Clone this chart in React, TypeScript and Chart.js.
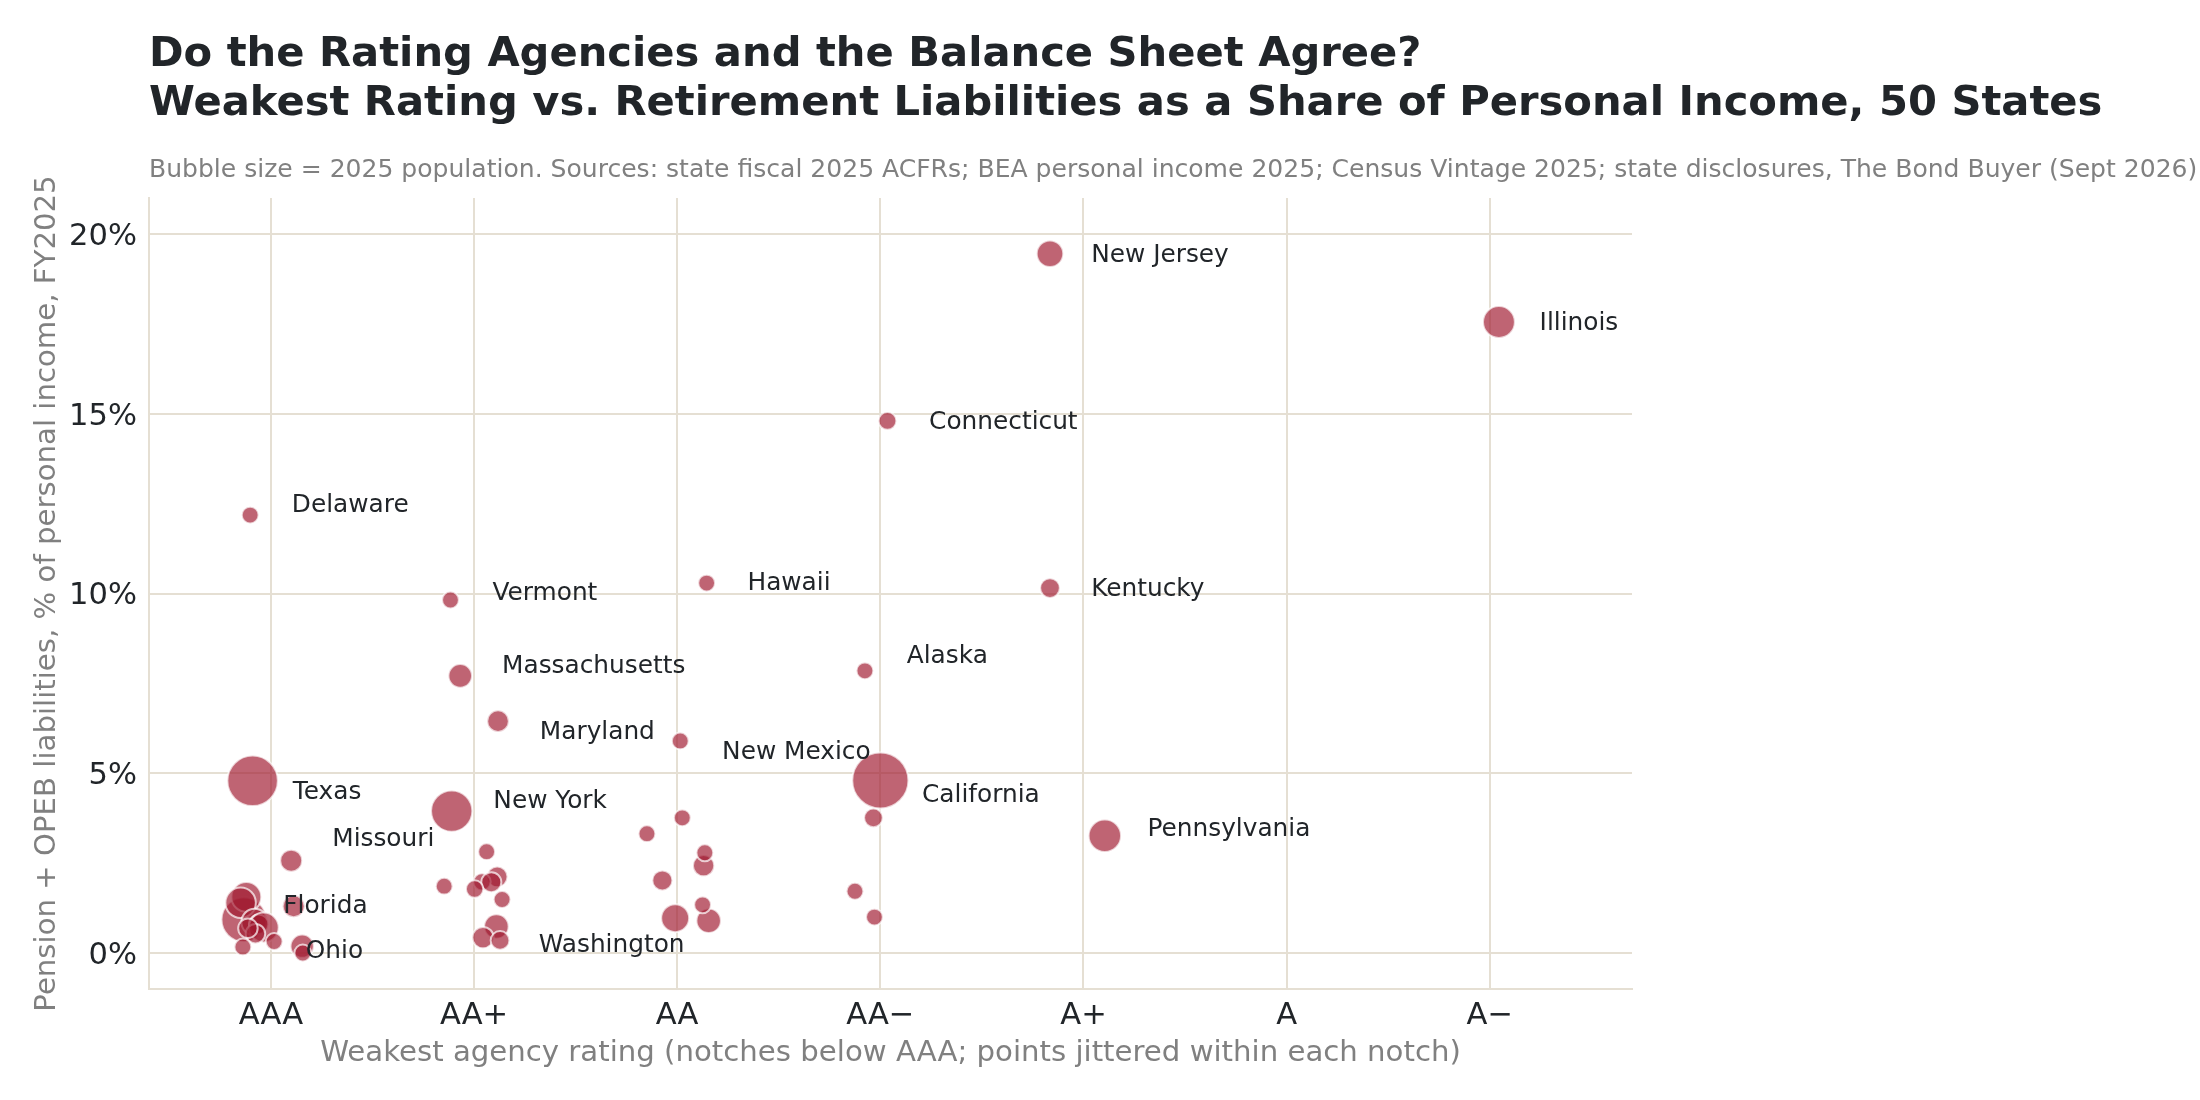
import { useEffect, useRef } from "react";
import { Chart, registerables } from "chart.js";
import type { Plugin } from "chart.js";

Chart.register(...registerables);

const FONT = "'DejaVu Sans', sans-serif";
const INK = "#212529";
const MUTED = "#808080";
const RULE = "#e5dfd3";

const titleLines = [
  "Do the Rating Agencies and the Balance Sheet Agree?",
  "Weakest Rating vs. Retirement Liabilities as a Share of Personal Income, 50 States",
];
const subtitle =
  "Bubble size = 2025 population. Sources: state fiscal 2025 ACFRs; BEA personal income 2025; Census Vintage 2025; state disclosures, The Bond Buyer (Sept 2026)";

const ratingLabels = ["AAA", "AA+", "AA", "AA\u2212", "A+", "A", "A\u2212"];
const percentTicks = [0, 5, 10, 15, 20];

// notches below AAA, jittered
const notches = [
  -0.133, -0.121, -0.149, -0.08, -0.06, -0.035, -0.076, -0.113, 0.016, -0.138, 0.112, 0.154, 0.157, 0.1, -0.09, -0.102,
  0.89, 1.062, 0.853, 1.114, 1.039, 1.085, 1.003, 1.138, 1.11, 1.044, 1.128, 0.884, 0.932, 1.118,
  2.025, 1.851, 2.13, 2.136, 1.927, 2.155, 2.125, 1.99, 2.015, 2.145,
  3.0, 2.966, 2.875, 2.971, 3.035, 2.924,
  3.835, 3.835, 4.105, 6.045,
];

// % of personal income
const liabilities = [
  0.93, 1.56, 1.4, 0.86, 0.8, 0.71, 0.54, 0.69, 0.32, 0.17, 1.3, 0.19, 0.0, 2.57, 4.79, 12.18,
  3.95, 2.82, 1.86, 2.12, 1.98, 1.97, 1.78, 1.49, 0.74, 0.43, 0.35, 9.82, 7.71, 6.45,
  3.76, 3.32, 2.43, 2.79, 2.02, 0.9, 1.34, 0.97, 5.9, 10.29,
  4.8, 3.76, 1.72, 1.0, 14.8, 7.85,
  19.45, 10.15, 3.26, 17.55,
];

// millions
const population = [
  24, 8.9, 9.4, 6.4, 2, 8.9, 2, 2, 0.7, 0.7, 3.4, 4.2, 0.7, 3.4, 31.3, 0.7,
  19.9, 0.7, 0.7, 2.6, 0.97, 2.3, 0.97, 0.7, 5, 3, 1.6, 0.7, 4.4, 3.2,
  0.7, 0.7, 3, 0.7, 2.3, 5, 0.7, 7.4, 0.7, 0.7,
  39.5, 1.6, 0.7, 0.7, 1.15, 0.7,
  6.4, 2.1, 11.1, 10.6,
];

const labelNames = [
  "New Jersey", "Illinois", "Connecticut", "Delaware", "Vermont", "Hawaii", "Kentucky", "Alaska",
  "Massachusetts", "Maryland", "New Mexico", "California", "Texas", "New York", "Pennsylvania",
  "Missouri", "Florida", "Ohio", "Washington",
];
const labelNotch = [
  4.038, 6.245, 3.24, 0.103, 1.091, 2.346, 4.038, 3.13,
  1.138, 1.324, 2.221, 3.205, 0.108, 1.095, 4.315,
  0.302, 0.061, 0.172, 1.319,
];
const labelPercent = [
  19.45, 17.55, 14.8, 12.5, 10.04, 10.32, 10.15, 8.29,
  8.01, 6.17, 5.62, 4.42, 4.5, 4.25, 3.47,
  3.19, 1.33, 0.075, 0.24,
];

const bubbleRadius = (pop: number) => Math.sqrt(58 + 18.5 * pop);

const points = notches.map((x, i) => ({
  x,
  y: liabilities[i],
  r: bubbleRadius(population[i]),
}));

const annotations: Plugin<"bubble"> = {
  id: "annotations",
  afterDraw(chart) {
    const { ctx, scales } = chart;
    ctx.save();
    ctx.textAlign = "left";
    ctx.textBaseline = "middle";
    ctx.fillStyle = INK;
    ctx.font = `24.8px ${FONT}`;
    labelNames.forEach((name, i) => {
      ctx.fillText(name, scales.x.getPixelForValue(labelNotch[i]), scales.y.getPixelForValue(labelPercent[i]) + 1.5);
    });
    ctx.textBaseline = "alphabetic";
    ctx.font = `bold 41.67px ${FONT}`;
    ctx.fillText(titleLines[0], 149, 66);
    ctx.fillText(titleLines[1], 149, 115);
    ctx.fillStyle = MUTED;
    ctx.font = `25.05px ${FONT}`;
    ctx.fillText(subtitle, 149, 177);
    ctx.restore();
  },
};

export default function App() {
  const ref = useRef<HTMLCanvasElement>(null);

  useEffect(() => {
    if (!ref.current) return;
    document.body.style.margin = "0";
    const chart = new Chart(ref.current, {
      type: "bubble",
      plugins: [annotations],
      data: {
        datasets: [
          {
            data: points,
            backgroundColor: "rgba(161,26,48,0.68)",
            borderColor: "rgba(255,255,255,0.7)",
            borderWidth: 2,
            hoverRadius: 0,
          },
        ],
      },
      options: {
        animation: false,
        responsive: false,
        devicePixelRatio: 1,
        layout: { padding: { top: 198, right: 568, left: 0, bottom: 0 } },
        plugins: { legend: { display: false }, tooltip: { enabled: false } },
        scales: {
          x: {
            type: "linear",
            min: -0.6,
            max: 6.7,
            afterFit: (s) => { s.height = 111; },
            afterBuildTicks: (s) => { s.ticks = ratingLabels.map((_, i) => ({ value: i })); },
            grid: { color: RULE, lineWidth: 2, drawTicks: false },
            border: { color: RULE, width: 2 },
            ticks: {
              color: INK,
              padding: 9,
              autoSkip: false,
              maxRotation: 0,
              font: { family: FONT, size: 30.56 },
              callback: (v) => ratingLabels[v as number],
            },
            title: {
              display: true,
              text: "Weakest agency rating (notches below AAA; points jittered within each notch)",
              color: MUTED,
              font: { family: FONT, size: 29.2 },
              padding: { top: 0, bottom: 29 },
            },
          },
          y: {
            min: -1,
            max: 21,
            afterFit: (s) => { s.width = 149; },
            afterBuildTicks: (s) => { s.ticks = percentTicks.map((value) => ({ value })); },
            grid: { color: RULE, lineWidth: 2, drawTicks: false },
            border: { color: RULE, width: 2 },
            ticks: {
              color: INK,
              padding: 12,
              labelOffset: 3,
              font: { family: FONT, size: 30.56 },
              callback: (v) => `${v}%`,
            },
            title: {
              display: true,
              text: "Pension + OPEB liabilities, % of personal income, FY2025",
              color: MUTED,
              font: { family: FONT, size: 29.2 },
              padding: { top: 30, bottom: 0 },
            },
          },
        },
      },
    });
    return () => chart.destroy();
  }, []);

  return <canvas ref={ref} width={2200} height={1100} style={{ display: "block" }} />;
}
